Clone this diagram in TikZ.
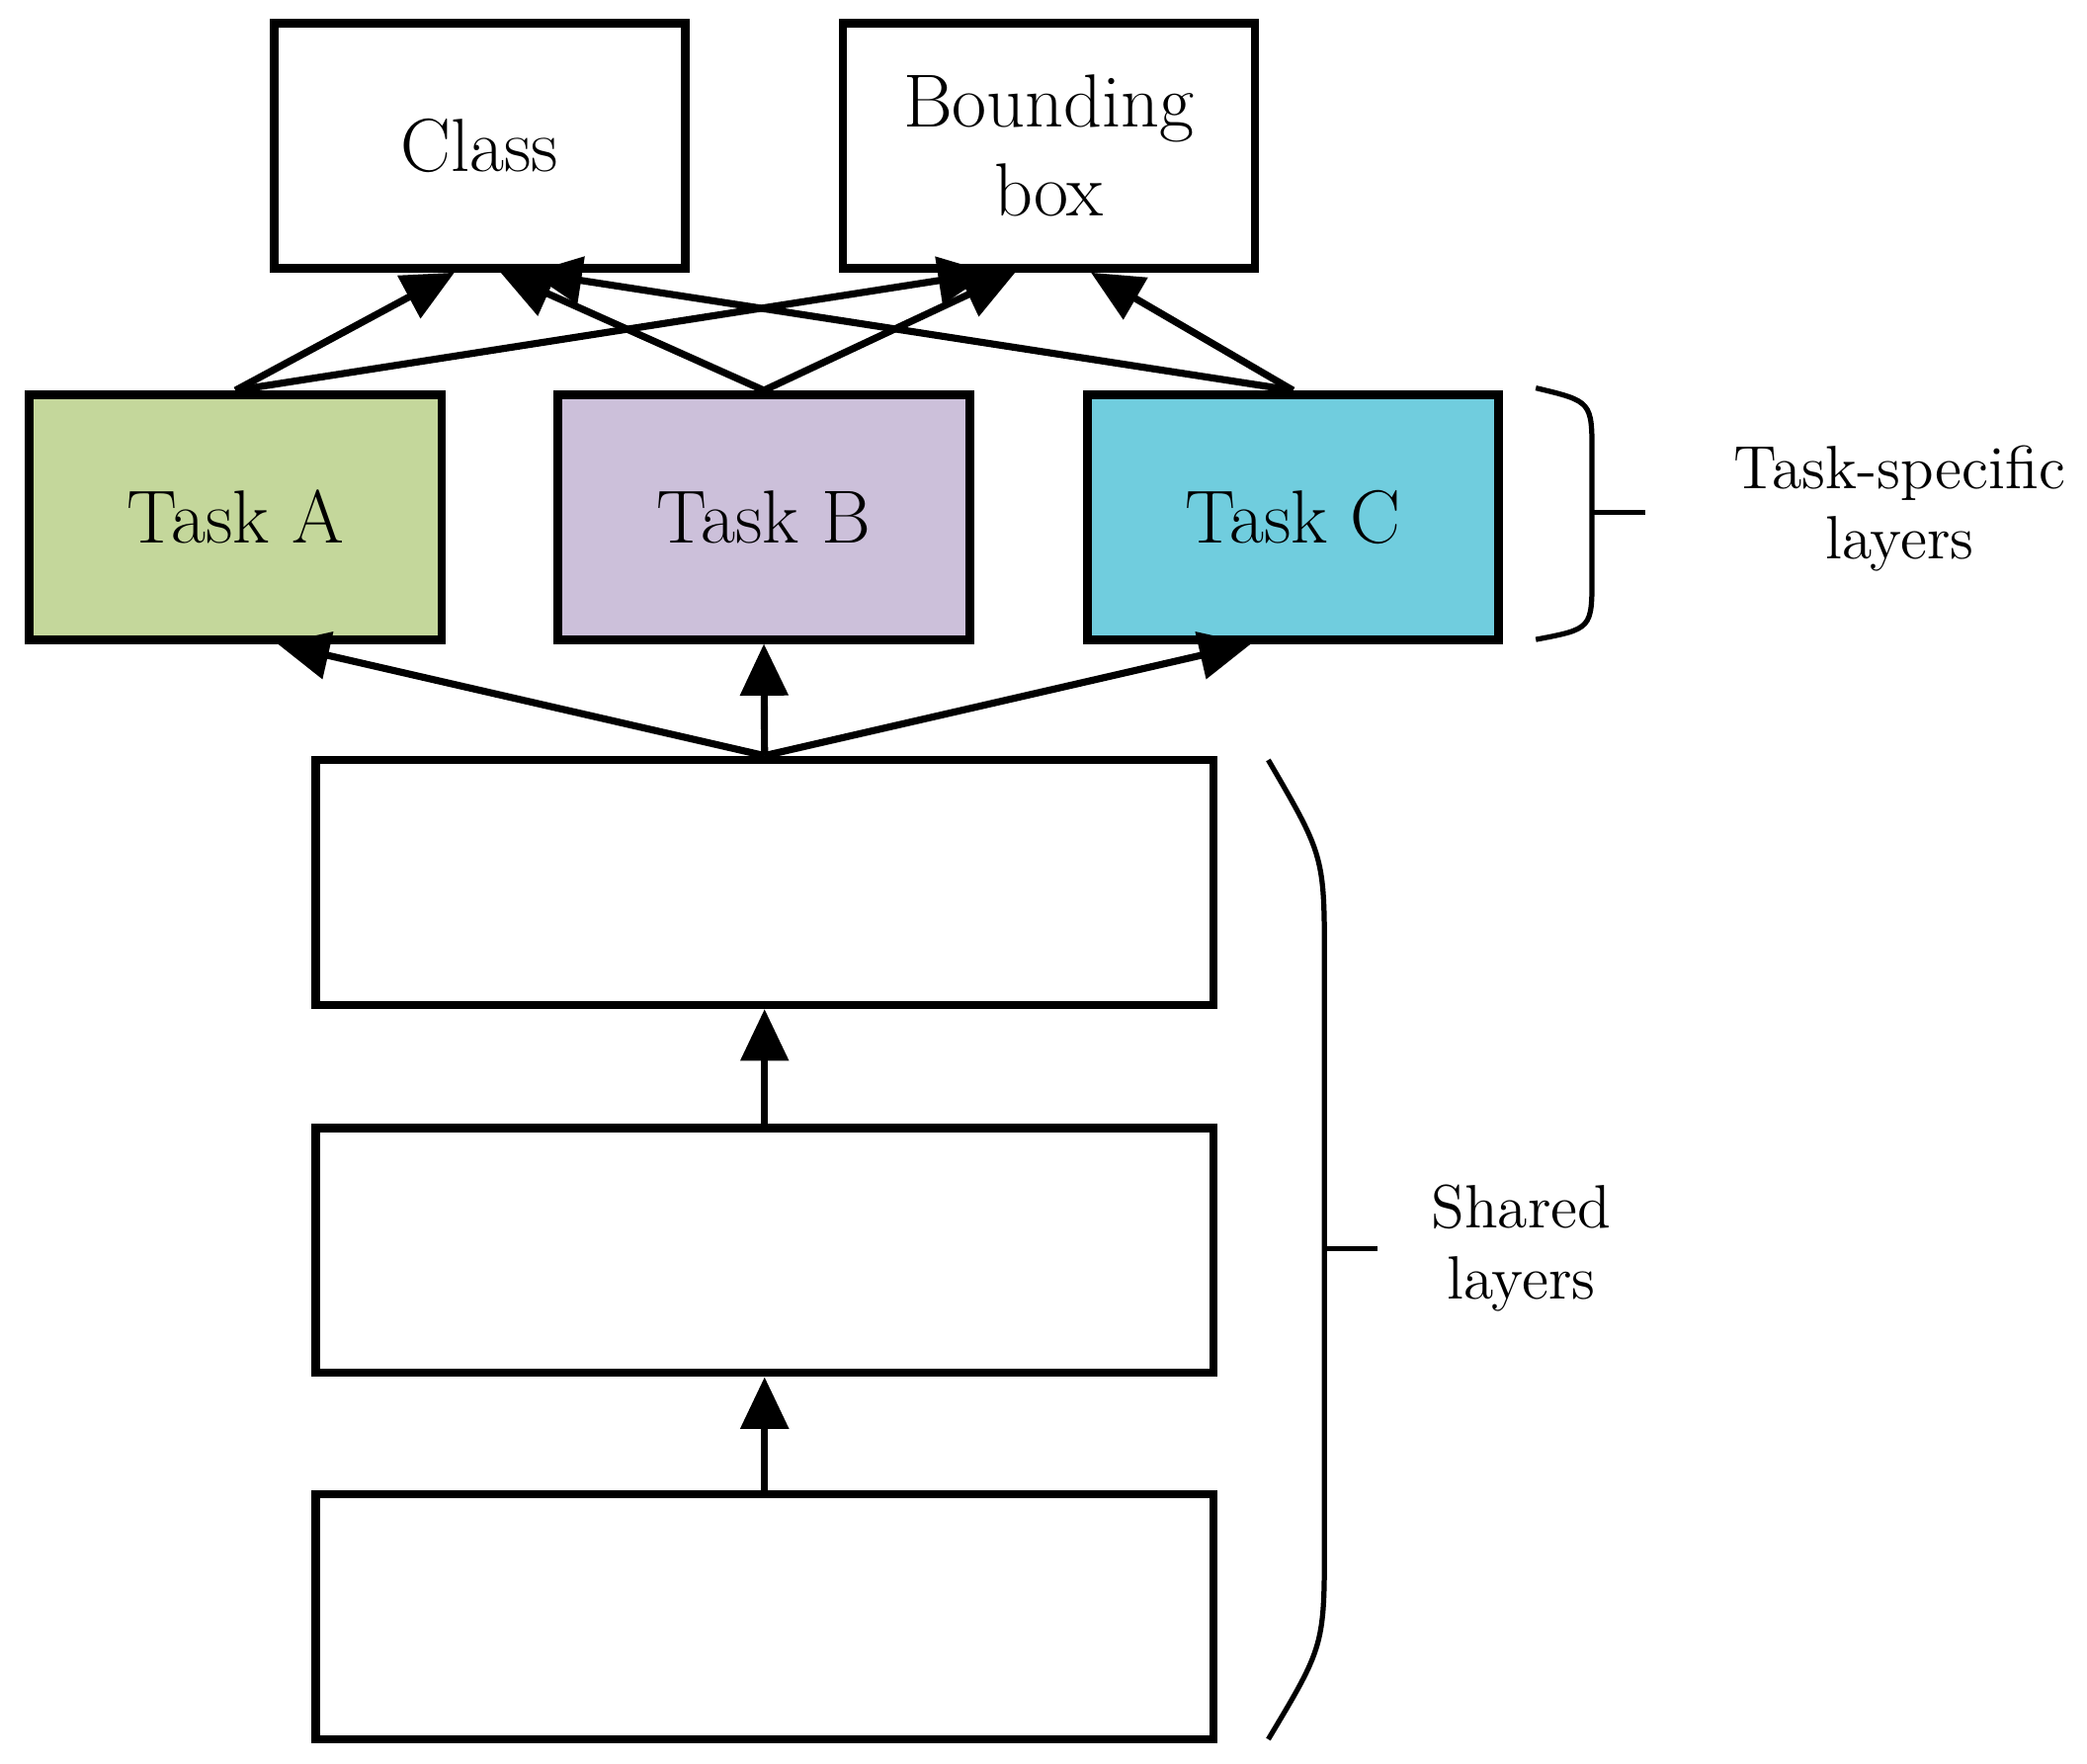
\documentclass[tikz,border=0pt]{standalone}
\usetikzlibrary{calc,arrows.meta}
\definecolor{ga}{RGB}{196,215,155}
\definecolor{gb}{RGB}{204,192,218}
\definecolor{gc}{RGB}{112,205,222}
\begin{document}
\begin{tikzpicture}[x=0.01cm,y=-0.01cm,
 box/.style={draw,line width=1.8pt,minimum width=#1,minimum height=1.83cm,inner sep=0pt,font=\fontsize{16}{19}\selectfont,align=center},
 arr/.style={line width=1.5pt,-{Triangle[length=11pt,width=10pt]}},
 br/.style={line width=1.1pt},
 lab/.style={font=\fontsize{13}{15}\selectfont,align=center}]
\useasboundingbox (0,0) rectangle (1560,1318);
\node[box=3.07cm] (cls) at (358.5,109) {Class};
\node[box=3.08cm] (bb) at (784,109) {Bounding\\box};
\node[box=3.08cm,fill=ga] (ta) at (176,386.5) {Task A};
\node[box=3.08cm,fill=gb] (tb) at (571,386.5) {Task B};
\node[box=3.07cm,fill=gc] (tc) at (966.5,386.5) {Task C};
\node[box=6.71cm] (s1) at (571.5,659.5) {};
\node[box=6.71cm] (s2) at (571.5,934.5) {};
\node[box=6.71cm] (s3) at (571.5,1208.5) {};
\draw[arr] (s3.north) -- (s2.south);
\draw[arr] (s2.north) -- (s1.south);
\draw[arr] (s1.north) -- ($(ta.south west)!0.6!(ta.south east)$);
\draw[arr] (s1.north) -- (tb.south);
\draw[arr] (s1.north) -- ($(tc.south west)!0.4!(tc.south east)$);
\draw[arr] (ta.north) -- ($(cls.south west)!0.44!(cls.south east)$);
\draw[arr] (ta.north) -- ($(bb.south west)!0.36!(bb.south east)$);
\draw[arr] (tb.north) -- ($(cls.south west)!0.55!(cls.south east)$);
\draw[arr] (tb.north) -- ($(bb.south west)!0.42!(bb.south east)$);
\draw[arr] (tc.north) -- ($(cls.south west)!0.62!(cls.south east)$);
\draw[arr] (tc.north) -- ($(bb.south west)!0.6!(bb.south east)$);
\draw[br] (1148,290) .. controls (1190,300) .. (1190,340) -- (1190,430) .. controls (1190,470) .. (1148,478);
\draw[br] (1190,383) -- (1230,383);
\draw[br] (948,568) .. controls (990,640) .. (990,720) -- (990,1150) .. controls (990,1230) .. (948,1300);
\draw[br] (990,933) -- (1030,933);
\node[lab] (l1) at (1420,380) {Task-specific\\layers};
\node[lab] (l2) at (1137,933) {Shared\\layers};
\end{tikzpicture}
\end{document}
